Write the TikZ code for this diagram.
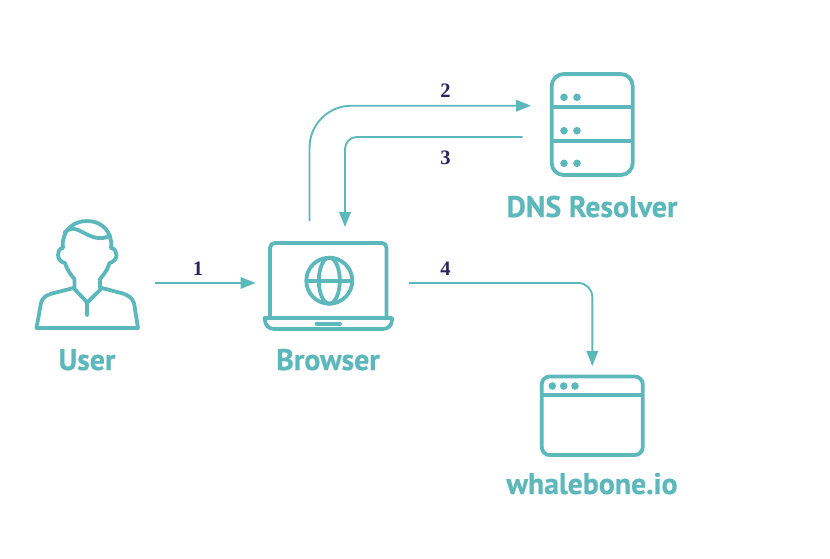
\documentclass[tikz,border=0pt]{standalone}
\usepackage{fontspec}
\setmainfont{PT Sans}
\newfontfamily\numfont{Liberation Serif}
\newfontfamily\titlefont[FakeBold=0.5]{PT Sans Bold}
\usetikzlibrary{arrows.meta}
\definecolor{teal1}{HTML}{5DB8BB}
\definecolor{navy1}{HTML}{2B2360}
\tikzset{
  icon/.style={draw=teal1,line width=3.8pt,line cap=round,line join=round},
  dot/.style={fill=teal1,draw=none},
  conn/.style={draw=teal1,line width=1.9pt,-{Triangle[length=15pt,width=11.5pt]}},
  title/.style={text=teal1,font=\fontsize{29.8}{32}\selectfont\titlefont,inner sep=0pt,anchor=base},
  num/.style={text=navy1,font=\fontsize{20.5}{22}\selectfont\numfont\bfseries,inner sep=0pt,anchor=base}
}
\begin{document}
\begin{tikzpicture}[x=1pt,y=-1pt]
\useasboundingbox[fill=white] (0,0) rectangle (830,558);

% user
\draw[icon] (63,248) .. controls (62.5,245) and (62.5,243) .. (63,241)
  .. controls (65,228) and (75,221) .. (87,221)
  .. controls (99,221) and (109,228) .. (111,241)
  .. controls (111.5,243) and (111.5,245) .. (111,248);
\draw[icon] (64.5,232.5) .. controls (72,225) and (79,230.5) .. (87,234.5)
  .. controls (95,238.5) and (104,240) .. (110,235);
\draw[icon] (63,247.5) .. controls (59,249) and (58,252) .. (58,255)
  .. controls (58,259) and (61,262) .. (65,263)
  .. controls (67,270) and (71,275) .. (74.5,279) -- (74.5,288);
\draw[icon] (111,247.5) .. controls (115,249) and (116.5,252) .. (116.5,255)
  .. controls (116.5,259) and (113.5,262) .. (109.5,263)
  .. controls (107.5,270) and (103.5,275) .. (100,279) -- (100,288);
\draw[icon] (36.5,328) -- (41,303) .. controls (43,296) and (48,295) .. (52,293.5) -- (73.5,288)
  -- (87.3,302.5) -- (102,288) -- (123,293.5)
  .. controls (127,295) and (132,297) .. (134,303) -- (138,328) -- cycle;
\draw[icon] (87.3,302.5) -- (87.3,315);
\node[title] (user) at (87,370) {User};

% browser
\draw[icon] (270,318) -- (270,248) .. controls (270,245) and (272,243) .. (275,243)
  -- (382,243) .. controls (385,243) and (386.5,245) .. (386.5,248) -- (386.5,318);
\draw[icon] (264.5,318) -- (392,318) -- (392,320) .. controls (392,325) and (388,329) .. (383,329)
  -- (274,329) .. controls (269,329) and (265,325) .. (265,320) -- cycle;
\draw[icon] (316.5,323.7) -- (340,323.7);
\draw[icon] (329.3,280.7) circle[radius=23];
\draw[icon] (329.3,280.7) ellipse[x radius=10.5,y radius=23];
\draw[icon] (307,280.7) -- (352,280.7);
\node[title] (browser) at (328,370) {Browser};

% dns
\draw[icon,rounded corners=12pt] (551.7,74) rectangle (632.7,175);
\draw[icon] (552,107.3) -- (632,107.3);
\draw[icon] (552,141) -- (632,141);
\foreach \y in {97.3,130.7,163.3}{
  \fill[dot] (564,\y) circle[radius=3.8];
  \fill[dot] (577,\y) circle[radius=3.8];
}
\node[title] (dns) at (592,217) {DNS Resolver};

% window
\draw[icon,rounded corners=8pt] (541.7,376.5) rectangle (642.8,455);
\draw[icon] (542,395) -- (642,395);
\foreach \x in {552.3,563.7,575}{
  \fill[dot] (\x,386) circle[radius=3.8];
}
\node[title] (web) at (592,494) {whalebone.io};

% connector end points
\coordinate (a1s) at (155,283);
\coordinate (a1e) at (255.5,283);
\coordinate (a2s) at (309.5,221);
\coordinate (a2c) at (309.5,105.7);
\coordinate (a2e) at (531,105.7);
\coordinate (a3s) at (522.5,137);
\coordinate (a3c) at (345,137);
\coordinate (a3e) at (345,227);
\coordinate (a4s) at (409,283);
\coordinate (a4c) at (592.3,283);
\coordinate (a4e) at (592.3,366);

\draw[conn] (a1s) -- (a1e);
\draw[conn,rounded corners=42pt] (a2s) -- (a2c) -- (a2e);
\draw[conn,rounded corners=12pt] (a3s) -- (a3c) -- (a3e);
\draw[conn,rounded corners=14pt] (a4s) -- (a4c) -- (a4e);

\node[num] (n1) at (198,275.2) {1};
\node[num] (n2) at (445.5,97.2) {2};
\node[num] (n3) at (445.5,164.2) {3};
\node[num] (n4) at (445.5,275.2) {4};
\end{tikzpicture}
\end{document}
